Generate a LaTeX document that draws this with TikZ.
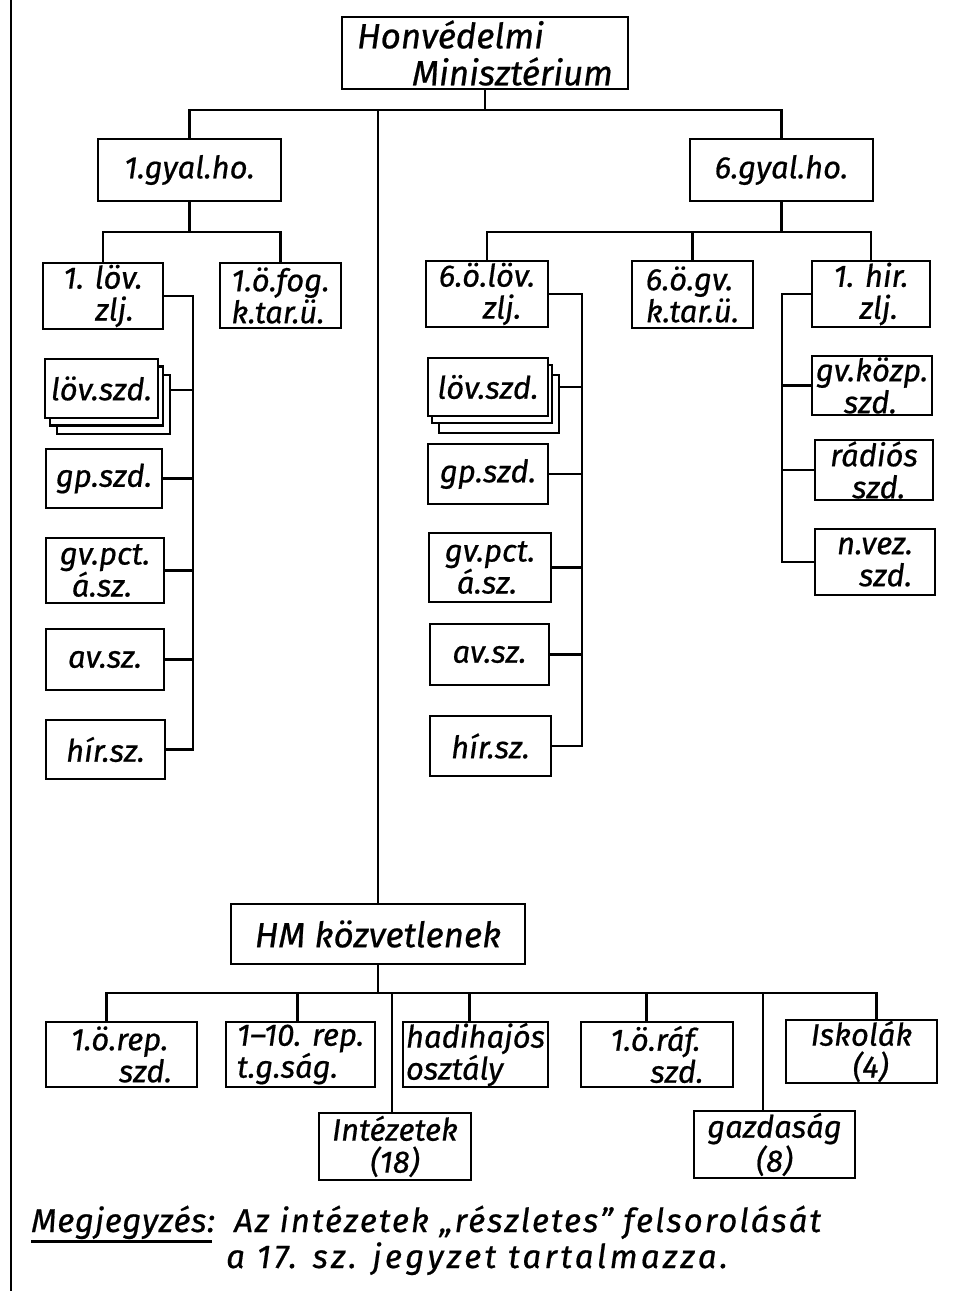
\documentclass[tikz,border=0pt]{standalone}
\usepackage{fontspec}
\setmainfont{Fira Sans}[ItalicFeatures={FakeBold=0.6}]
\usetikzlibrary{calc}
\tikzset{
  ln/.style={line width=2.8pt, line cap=rect},
  bx/.style={draw, line width=2.8pt, fill=white, inner sep=0pt, align=center,
    font=\itshape\fontsize{31}{32}\selectfont},
  card/.style={draw, line width=2.4pt, fill=white, inner sep=0pt},
  note/.style={inner sep=0pt, anchor=base west, font=\itshape\fontsize{33}{35}\selectfont\addfontfeatures{LetterSpace=6}},
}
\newcommand{\obox}[7][]{\node[bx,minimum width={(#5-#3)*1pt},minimum height={(#6-#4)*1pt},#1] (#2) at ({(#3+#5)/2},{(#4+#6)/2}) {#7};}
\begin{document}
\begin{tikzpicture}[x=1pt,y=-1pt]
\useasboundingbox (0,0) rectangle (957,1291);
\draw[line width=2.4pt] (11,0) -- (11,1291);
% top
\obox[align=left,font=\itshape\fontsize{35}{37}\selectfont]{hm}{342}{17}{628}{89}{Honvédelmi\\\hspace*{55pt}Minisztérium}
\obox{g1}{98}{139}{281}{201}{1.gyal.ho.}
\obox{g6}{690}{139}{873}{201}{6.gyal.ho.}
\obox[font=\itshape\fontsize{35}{37}\selectfont]{hk}{231}{904}{525}{964}{HM közvetlenek}
\coordinate (tb) at (0,110);
\draw[ln] (hm.south) -- (hm.south |- tb);
\draw[ln] (g1.north) -- (g1.north |- tb) -- (g6.north |- tb) -- (g6.north);
\draw[ln] (hk.north) -- (hk.north |- tb);
% left division
\obox[align=left]{z1}{43}{263}{163}{329}{1. löv.\\\hspace*{32pt}zlj.}
\obox[align=left]{f1}{220}{263}{341}{328}{1.ö.fog.\\k.tar.ü.}
\node[card,minimum width=113pt,minimum height=59pt] (ls1c) at (113.5,404.5) {};
\node[card,minimum width=113pt,minimum height=59pt] (ls1b) at (106.5,396) {};
\obox{ls1}{45}{359}{158}{418}{löv.szd.}
\obox{gp1}{46}{449}{162}{508}{gp.szd.}
\obox[align=left]{gv1}{46}{538}{164}{603}{gv.pct.\\\hspace*{12pt}á.sz.}
\obox{av1}{46}{629}{164}{690}{av.sz.}
\obox{hs1}{46}{720}{165}{779}{hír.sz.}
\coordinate (cb) at (0,232);
\draw[ln] (g1.south) -- (g1.south |- cb);
\draw[ln] (z1.north) -- (z1.north |- cb) -- (f1.north |- cb) -- (f1.north);
\coordinate (v1) at (193,0);
\draw[ln] (z1.east) -- (z1.east -| v1) -- (hs1.east -| v1) -- (hs1.east);
\draw[ln] (ls1c.east |- 0,390) -- (v1 |- 0,390);
\draw[ln] (gp1.east) -- (gp1.east -| v1);
\draw[ln] (gv1.east) -- (gv1.east -| v1);
\draw[ln] (av1.east) -- (av1.east -| v1);
% right division
\obox[align=left]{z6}{426}{261}{548}{327}{6.ö.löv.\\\hspace*{44pt}zlj.}
\obox[align=left]{gv6}{632}{261}{753}{328}{6.ö.gv.\\k.tar.ü.}
\obox[align=left]{hz}{812}{261}{930}{327}{1. hir.\\\hspace*{26pt}zlj.}
\node[card,minimum width=120pt,minimum height=58pt] (ls6c) at (499,404) {};
\node[card,minimum width=120pt,minimum height=58pt] (ls6b) at (492,394) {};
\obox{ls6}{428}{358}{548}{416}{löv.szd.}
\obox{gp6}{428}{444}{548}{504}{gp.szd.}
\obox[align=left]{gvp6}{429}{533}{551}{602}{gv.pct.\\\hspace*{12pt}á.sz.}
\obox{av6}{430}{624}{549}{685}{av.sz.}
\obox{hs6}{430}{716}{551}{776}{hír.sz.}
\draw[ln] (g6.south) -- (g6.south |- cb);
\draw[ln] (z6.north) -- (z6.north |- cb) -- (hz.north |- cb) -- (hz.north);
\draw[ln] (gv6.north) -- (gv6.north |- cb);
\coordinate (v6) at (582,0);
\draw[ln] (z6.east) -- (z6.east -| v6) -- (hs6.east -| v6) -- (hs6.east);
\draw[ln] (ls6c.east |- 0,387) -- (v6 |- 0,387);
\draw[ln] (gp6.east) -- (gp6.east -| v6);
\draw[ln] (gvp6.east) -- (gvp6.east -| v6);
\draw[ln] (av6.east) -- (av6.east -| v6);
% signal battalion
\obox[align=left]{gk}{812}{356}{932}{415}{gv.közp.\\\hspace*{28pt}szd.}
\obox[align=left]{rs}{815}{440}{933}{500}{rádiós\\\hspace*{22pt}szd.}
\obox[align=left]{nv}{815}{529}{935}{595}{n.vez.\\\hspace*{22pt}szd.}
\coordinate (vh) at (782,0);
\draw[ln] (hz.west) -- (hz.west -| vh) -- (nv.west -| vh) -- (nv.west);
\draw[ln] (gk.west) -- (gk.west -| vh);
\draw[ln] (rs.west) -- (rs.west -| vh);
% HM direct units
\obox[align=left]{rep}{46}{1022}{197}{1087}{1.ö.rep.\\\hspace*{48pt}szd.}
\obox[align=left]{tgs}{226}{1022}{375}{1087}{1--10. rep.\\t.g.ság.}
\obox[align=left]{hh}{403}{1022}{548}{1087}{hadihajós\\osztály}
\obox[align=left]{raf}{581}{1022}{733}{1087}{1.ö.ráf.\\\hspace*{40pt}szd.}
\obox[align=left]{isk}{786}{1020}{937}{1083}{Iskolák\\\hspace*{42pt}(4)}
\obox{int}{319}{1113}{471}{1180}{Intézetek\\(18)}
\obox{gaz}{694}{1111}{855}{1178}{gazdaság\\(8)}
\coordinate (bb) at (0,993);
\coordinate (s1) at ($(rep.north west)!0.40!(rep.north east)$);
\coordinate (s2) at ($(tgs.north west)!0.48!(tgs.north east)$);
\coordinate (s3) at ($(int.north west)!0.48!(int.north east)$);
\coordinate (s4) at ($(hh.north west)!0.46!(hh.north east)$);
\coordinate (s5) at ($(raf.north west)!0.43!(raf.north east)$);
\coordinate (s6) at ($(gaz.north west)!0.43!(gaz.north east)$);
\coordinate (s7) at ($(isk.north west)!0.60!(isk.north east)$);
\draw[ln] (hk.south) -- (hk.south |- bb);
\draw[ln] (s1) -- (s1 |- bb) -- (s7 |- bb) -- (s7);
\foreach \s in {s2,s3,s4,s5,s6} \draw[ln] (\s) -- (\s |- bb);
% note
\node[note,font=\itshape\fontsize{33}{35}\selectfont\addfontfeatures{LetterSpace=2}] (mg) at (31,1232) {Megjegyzés:};
\node[note] (n1) at (234,1232) {Az intézetek „részletes” felsorolását};
\node[note,font=\itshape\fontsize{33}{35}\selectfont\addfontfeatures{LetterSpace=10}] (n2) at (226,1268) {a 17. sz. jegyzet tartalmazza.};
\draw[line width=3pt] (31,1241) -- (212,1241);
\end{tikzpicture}
\end{document}
